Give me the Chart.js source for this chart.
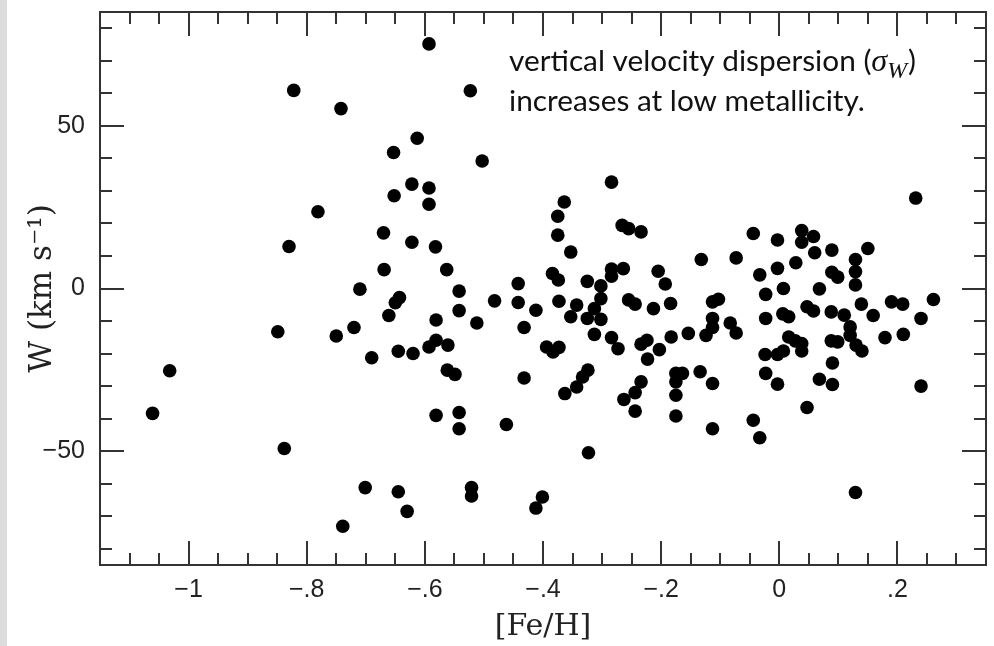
<!DOCTYPE html>
<html>
<head>
<meta charset="utf-8">
<script src="https://cdn.jsdelivr.net/npm/chart.js@4.4.1/dist/chart.umd.min.js"></script>
<style>
    html, body { margin: 0; padding: 0; background: #fff; }
</style>
</head>
<body>
<canvas id="chart" width="994" height="646"></canvas>
<script>
// [Fe/H] and W (km/s), one entry per star
const feH = [
    -1.061, -1.032, -0.849, -0.838, -0.822, -0.830, -0.781, -0.742, -0.750, -0.739,
    -0.720, -0.710, -0.701, -0.690, -0.670, -0.669, -0.661, -0.653, -0.652, -0.650,
    -0.643, -0.645, -0.645, -0.630, -0.622, -0.622, -0.620, -0.613, -0.593, -0.593,
    -0.593, -0.593, -0.582, -0.581, -0.581, -0.581, -0.563, -0.561, -0.562, -0.549,
    -0.542, -0.542, -0.542, -0.542, -0.523, -0.521, -0.521, -0.512, -0.503, -0.482,
    -0.462, -0.442, -0.442, -0.432, -0.432, -0.412, -0.412, -0.401, -0.394, -0.384,
    -0.383, -0.375, -0.375, -0.374, -0.373, -0.373, -0.364, -0.363, -0.353, -0.353,
    -0.343, -0.343, -0.333, -0.325, -0.325, -0.324, -0.323, -0.313, -0.313, -0.302,
    -0.302, -0.302, -0.284, -0.284, -0.284, -0.284, -0.273, -0.266, -0.264, -0.263,
    -0.255, -0.255, -0.244, -0.244, -0.244, -0.234, -0.234, -0.234, -0.224, -0.223,
    -0.213, -0.205, -0.203, -0.193, -0.184, -0.183, -0.175, -0.164, -0.175, -0.175,
    -0.175, -0.154, -0.132, -0.134, -0.124, -0.113, -0.103, -0.113, -0.113, -0.113,
    -0.113, -0.083, -0.073, -0.073, -0.044, -0.044, -0.033, -0.033, -0.023, -0.023,
    -0.024, -0.023, -0.003, -0.003, -0.003, -0.003, 0.007, 0.006, 0.016, 0.007,
    0.016, 0.027, 0.028, 0.038, 0.038, 0.038, 0.038, 0.047, 0.047, 0.058,
    0.058, 0.060, 0.068, 0.068, 0.088, 0.088, 0.089, 0.089, 0.099, 0.099,
    0.090, 0.090, 0.110, 0.120, 0.120, 0.129, 0.129, 0.129, 0.130, 0.129,
    0.139, 0.140, 0.150, 0.159, 0.179, 0.190, 0.209, 0.210, 0.231, 0.240,
    0.240, 0.261
];
const wVel = [
    -38.4, -25.3, -13.3, -49.2, 60.9, 12.9, 23.6, 55.3, -14.6, -73.1,
    -12.0, -0.2, -61.2, -21.3, 17.1, 5.8, -8.3, 41.8, 28.5, -4.4,
    -2.8, -19.3, -62.5, -68.5, 32.1, 14.2, -20.0, 46.2, 75.2, 30.9,
    25.9, -18.0, 12.8, -9.7, -15.9, -39.0, 5.8, -17.4, -25.1, -26.4,
    -0.8, -6.8, -38.1, -43.1, 60.8, -61.2, -63.8, -10.6, 39.2, -3.8,
    -41.8, 1.5, -4.3, -12.0, -27.5, -6.7, -67.5, -64.1, -18.0, 4.6,
    -19.5, 22.2, 16.4, 2.6, -3.9, -18.1, 26.6, -32.3, 11.2, -8.7,
    -5.1, -30.3, -27.2, 2.2, -9.2, -25.1, -50.5, -6.2, -14.1, 0.8,
    -3.1, -9.5, 32.7, 6.0, 3.8, -15.1, -18.5, 19.4, 6.1, -34.1,
    18.4, -3.5, -4.8, -32.0, -37.7, 17.4, -17.1, -28.7, -15.9, -21.7,
    -6.2, 5.3, -18.8, 1.4, -4.6, -14.9, -26.1, -26.1, -28.7, -32.8,
    -39.2, -13.8, 8.9, -25.6, -14.4, -4.1, -3.3, -9.2, -12.0, -29.2,
    -43.1, -10.6, -13.7, 9.4, 16.9, -40.5, 4.2, -45.9, -1.8, -9.2,
    -20.3, -26.1, 14.9, 6.2, -20.3, -29.4, 0.0, -7.8, -8.7, -19.2,
    -14.9, -16.1, 7.9, 17.8, 14.2, -16.9, -19.2, -5.6, -36.6, 16.0,
    -6.9, 11.0, -0.1, -27.9, -7.2, -16.1, 11.8, 5.0, 3.5, -16.4,
    -22.9, -29.5, -8.2, -11.8, -14.4, 8.9, 5.2, 1.1, -17.4, -62.7,
    -4.8, -19.2, 12.3, -8.3, -15.1, -4.1, -4.8, -14.1, 27.8, -9.2,
    -30.0, -3.4
];

const xTickValues = [-1, -0.8, -0.6, -0.4, -0.2, 0, 0.2];
const xTickLabels = ['\u22121', '\u2212.8', '\u2212.6', '\u2212.4', '\u2212.2', '0', '.2'];
const yTickValues = [-50, 0, 50];
const yTickLabels = ['\u221250', '0', '50'];
const noteLine1 = 'vertical velocity dispersion (';
const noteLine2 = 'increases at low metallicity.';

const points = feH.map((v, i) => ({ x: v, y: wVel[i] }));

// fixed axis box size, and no extra padding asked for by the tick labels
function fixScale(size) {
    return s => {
        if (s.isHorizontal()) s.height = size; else s.width = size;
        s.paddingTop = 0;
        s.paddingBottom = 0;
        s.paddingLeft = 0;
        s.paddingRight = 0;
    };
}

// frame with inward ticks on all four sides, like the original plot
const frameTicks = {
    id: 'frameTicks',
    beforeDraw(chart) {
        const ctx = chart.ctx;
        ctx.save();
        ctx.fillStyle = '#dcdcdc';
        ctx.fillRect(0, 0, 7, chart.height);
        ctx.restore();
    },
    beforeDatasetsDraw(chart) {
        const { ctx, chartArea: a, scales: { x, y } } = chart;
        ctx.save();
        ctx.strokeStyle = '#333';
        ctx.lineWidth = 2;
        ctx.beginPath();
        for (let k = -22; k <= 6; k++) {
            const px = Math.round(x.getPixelForValue(k * 0.05));
            const len = (k % 4 === 0) ? 24 : 12;
            ctx.moveTo(px, a.bottom); ctx.lineTo(px, a.bottom - len);
            ctx.moveTo(px, a.top); ctx.lineTo(px, a.top + len);
        }
        for (let k = -8; k <= 8; k++) {
            const py = Math.round(y.getPixelForValue(k * 10));
            const len = (k % 5 === 0) ? 24 : 12;
            ctx.moveTo(a.left, py); ctx.lineTo(a.left + len, py);
            ctx.moveTo(a.right, py); ctx.lineTo(a.right - len, py);
        }
        ctx.stroke();
        ctx.strokeRect(a.left, a.top, a.right - a.left, a.bottom - a.top);
        ctx.restore();
    },
    afterDraw(chart) {
        const { ctx, chartArea: a } = chart;
        ctx.save();
        ctx.fillStyle = '#111';
        ctx.textBaseline = 'alphabetic';
        // size the note so the second line spans about as wide as in the scan
        let size = 24;
        ctx.font = size + 'px Lato';
        size = size * 356 / ctx.measureText(noteLine2).width;
        const sans = size.toFixed(1) + 'px Lato';
        const left = a.left + 409;
        const base1 = a.top + 59;
        const base2 = a.top + 99;
        ctx.font = sans;
        ctx.fillText(noteLine1, left, base1);
        let cx = left + ctx.measureText(noteLine1).width;
        ctx.font = 'italic ' + (size * 1.08).toFixed(1) + 'px "Liberation Serif"';
        ctx.fillText('\u03c3', cx, base1);
        cx += ctx.measureText('\u03c3').width;
        ctx.font = 'italic ' + (size * 0.8).toFixed(1) + 'px "Liberation Serif"';
        ctx.fillText('W', cx, base1 + size * 0.22);
        cx += ctx.measureText('W').width + 1;
        ctx.font = sans;
        ctx.fillText(')', cx, base1);
        ctx.fillText(noteLine2, left, base2);
        ctx.restore();
    }
};

new Chart(document.getElementById('chart'), {
    type: 'scatter',
    data: {
        datasets: [{
            data: points,
            backgroundColor: '#000',
            borderWidth: 0,
            pointRadius: 6.8,
            pointHoverRadius: 6.8,
        }],
    },
    options: {
        responsive: false,
        animation: false,
        devicePixelRatio: 1,
        layout: { autoPadding: false, padding: { left: 0, right: 8, top: 12, bottom: 0 } },
        plugins: {
            legend: { display: false },
            tooltip: { enabled: false },
        },
        scales: {
            x: {
                type: 'linear',
                min: -1.15,
                max: 0.35,
                afterBuildTicks: s => { s.ticks = xTickValues.map(v => ({ value: v })); },
                afterFit: fixScale(81),
                grid: { display: false, drawTicks: false },
                border: { display: false },
                ticks: {
                    autoSkip: false,
                    maxRotation: 0,
                    padding: 10,
                    color: '#222',
                    font: { family: 'Liberation Sans', size: 25 },
                    callback: (v, i) => xTickLabels[i],
                },
                title: {
                    display: true,
                    text: '[Fe/H]',
                    color: '#222',
                    font: { family: 'DejaVu Serif', size: 30 },
                    padding: { top: 0, bottom: 1 },
                },
            },
            y: {
                type: 'linear',
                min: -85,
                max: 85,
                afterBuildTicks: s => { s.ticks = yTickValues.map(v => ({ value: v })); },
                afterFit: fixScale(100),
                grid: { display: false, drawTicks: false },
                border: { display: false },
                ticks: {
                    autoSkip: false,
                    padding: 15,
                    color: '#222',
                    font: { family: 'Liberation Sans', size: 25 },
                    callback: (v, i) => yTickLabels[i],
                },
                title: {
                    display: true,
                    text: 'W (km s\u207b\u00b9)',
                    color: '#222',
                    font: { family: 'DejaVu Serif', size: 31 },
                    padding: { top: 24, bottom: 0 },
                },
            },
        },
    },
    plugins: [frameTicks],
});
</script>
</body>
</html>
